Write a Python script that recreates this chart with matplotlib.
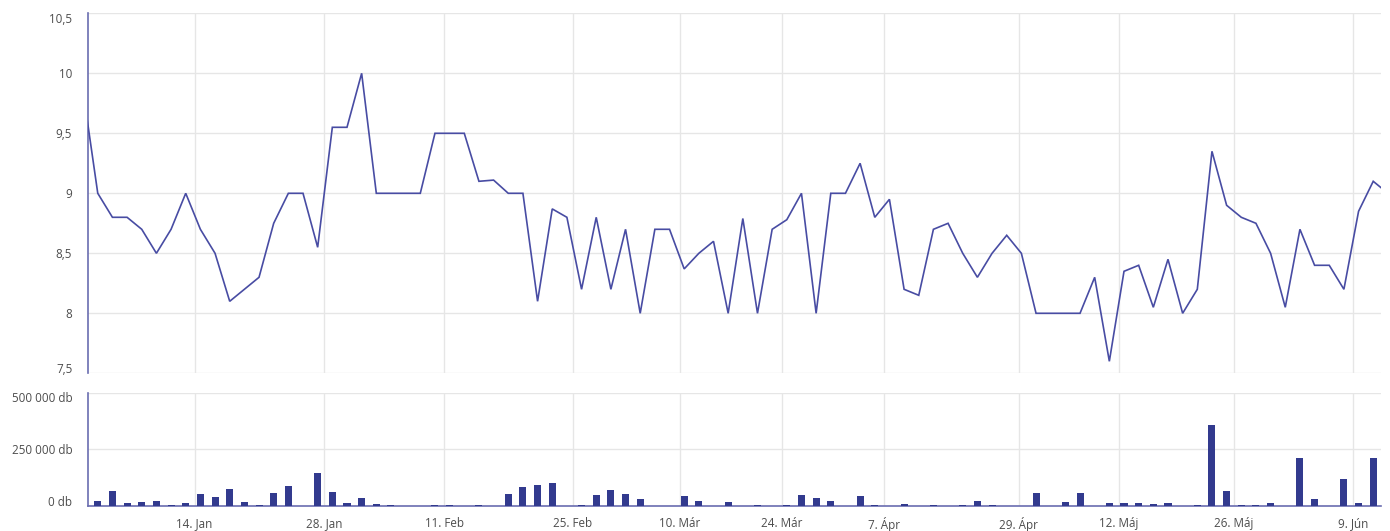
import matplotlib
matplotlib.use("Agg")
import matplotlib.pyplot as plt
from matplotlib.ticker import FuncFormatter, FixedLocator
from matplotlib.transforms import ScaledTranslation

plt.rcParams['font.family'] = ['Open Sans', 'DejaVu Sans']

# Price series (ordinal trading sessions); first and last values lie just outside the visible range
prices = [9.85,
          9.0, 8.8, 8.8, 8.7, 8.5, 8.7, 9.0, 8.7, 8.5, 8.1,
          8.2, 8.3, 8.75, 9.0, 9.0, 8.55, 9.55, 9.55, 10.0, 9.0,
          9.0, 9.0, 9.0, 9.5, 9.5, 9.5, 9.1, 9.11, 9.0, 9.0,
          8.1, 8.87, 8.8, 8.2, 8.8, 8.2, 8.7, 8.0, 8.7, 8.7,
          8.37, 8.5, 8.6, 8.0, 8.79, 8.0, 8.7, 8.78, 9.0, 8.0,
          9.0, 9.0, 9.25, 8.8, 8.95, 8.2, 8.15, 8.7, 8.75, 8.5,
          8.3, 8.5, 8.65, 8.5, 8.0, 8.0, 8.0, 8.0, 8.3, 7.6,
          8.35, 8.4, 8.05, 8.45, 8.0, 8.2, 9.35, 8.9, 8.8, 8.75,
          8.5, 8.05, 8.7, 8.4, 8.4, 8.2, 8.85, 9.1,
          9.0]
price_index = list(range(-1, len(prices) - 1))

# Traded volume (db) per session
volumes = [23000, 66000, 15000, 19000, 23000, 5000, 15000, 53000, 38000, 76000,
           19000, 5000, 56000, 90000, 0, 147000, 62000, 15000, 34000, 10000,
           5000, 0, 0, 5000, 5000, 0, 5000, 0, 53000, 85000,
           91000, 100000, 0, 5000, 47000, 72000, 53000, 29000, 0, 0,
           43000, 23000, 0, 19000, 0, 5000, 0, 5000, 47000, 34000,
           23000, 0, 43000, 5000, 0, 9000, 0, 5000, 0, 5000,
           23000, 5000, 0, 0, 56000, 0, 19000, 56000, 0, 13000,
           13000, 13000, 9000, 13000, 0, 5000, 356000, 66000, 5000, 5000,
           13000, 0, 213000, 29000, 0, 119000, 13000, 213000]
volume_index = list(range(len(volumes)))

# Date tick labels and their positions on the ordinal session axis
date_labels = ['14. Jan', '28. Jan', '11. Feb', '25. Feb', '10. Már', '24. Már',
               '7. Ápr', '29. Ápr', '12. Máj', '26. Máj', '9. Jún']
date_ticks = [6.60, 15.44, 23.65, 32.40, 39.70, 46.65, 53.64, 62.81, 69.65, 77.51, 85.62]

price_ticks = [7.5, 8, 8.5, 9, 9.5, 10, 10.5]
volume_ticks = [0, 250000, 500000]

LINE_C = '#484ca3'
BAR_C = '#323a8e'
GRID_C = '#e6e6e6'
TEXT_C = '#4d4d4d'
AXIS_C = '#6a6db0'

W, H = 1390, 531
fig = plt.figure(figsize=(W / 100, H / 100), dpi=100)

left = 87.5 / W
width = (1381 - 87.5) / W
ax1 = fig.add_axes([left, 1 - 373.3 / H, width, 360 / H])
ax2 = fig.add_axes([left, 1 - 506 / H, width, 113.3 / H], sharex=ax1)

xmin, xmax = -0.70, 87.53

ax1.plot(price_index, prices, color=LINE_C, lw=1.2, solid_joinstyle='miter', zorder=3)
ax1.set_ylim(7.5, 10.5)
ax1.set_xlim(xmin, xmax)
ax1.yaxis.set_major_locator(FixedLocator(price_ticks))
ax1.yaxis.set_major_formatter(FuncFormatter(lambda v, p: ('%g' % v).replace('.', ',')))

ax2.bar(volume_index, volumes, width=0.48, color=BAR_C, zorder=3)
ax2.set_ylim(0, 500000)
ax2.yaxis.set_major_locator(FixedLocator(volume_ticks))
ax2.yaxis.set_major_formatter(FuncFormatter(
    lambda v, p: '{:,.0f}'.format(v).replace(',', ' ') + ' db'))

for ax in (ax1, ax2):
    ax.xaxis.set_major_locator(FixedLocator(date_ticks))
    ax.grid(True, color=GRID_C, lw=1, zorder=0)
    ax.set_axisbelow(True)
    for s in ('top', 'right', 'bottom'):
        ax.spines[s].set_visible(False)
    ax.spines['left'].set_color(AXIS_C)
    ax.spines['left'].set_linewidth(1.2)
    ax.tick_params(axis='both', length=0, labelsize=8.4, labelcolor=TEXT_C)
    ax.tick_params(axis='y', pad=11)

ax1.tick_params(axis='x', labelbottom=False)
ax2.spines['bottom'].set_visible(True)
ax2.spines['bottom'].set_color(AXIS_C)
ax2.spines['bottom'].set_linewidth(1.2)
ax2.set_xticklabels(date_labels)
ax2.tick_params(axis='x', pad=8)

# keep edge labels inside the panels, as in the reference
fig.canvas.draw()
def shift(ax, first_dy, last_dy):
    labels = ax.yaxis.get_majorticklabels()
    for lab, dy in ((labels[0], first_dy), (labels[-1], last_dy)):
        lab.set_transform(lab.get_transform() + ScaledTranslation(0, dy / 100, fig.dpi_scale_trans))

shift(ax1, 5, -5)
shift(ax2, 5, -4.5)

fig.savefig('out.png', dpi=100)
